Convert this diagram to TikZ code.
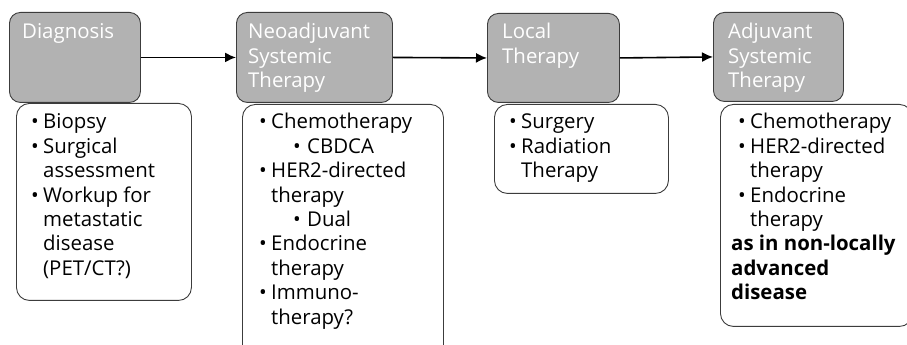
\documentclass[tikz,border=0pt]{standalone}
\usepackage{fontspec}
\setmainfont{Open Sans}
\usetikzlibrary{arrows.meta}
\definecolor{boxgray}{RGB}{178,178,178}
\definecolor{edge}{RGB}{60,60,60}
\newcommand{\bu}{\makebox[12pt][l]{\textbullet}}
\newcommand{\ind}{\hspace*{12pt}}
\newcommand{\subbu}{\hspace*{34pt}\makebox[14pt][l]{\textbullet}}
\newcommand{\lines}[1]{\begin{tabular}[t]{@{}l@{}}#1\end{tabular}}
\tikzset{
  head/.style={draw=edge, fill=boxgray, line width=0.9pt, rounded corners=11pt, anchor=north west, inner sep=0pt},
  body/.style={draw=edge, fill=white, line width=0.9pt, rounded corners=13pt, anchor=north west, inner sep=0pt},
  txt/.style={anchor=base west, inner sep=0pt, font=\fontsize{20.4}{24.4}\selectfont},
  ttl/.style={txt, text=white},
  flow/.style={line width=1.6pt, -{Latex[length=11pt,width=10pt]}}
}
\begin{document}
\begin{tikzpicture}[x=1pt,y=1pt]
\clip (0,0) rectangle (907,345);
\fill[white] (0,0) rectangle (907,345);
% white body boxes
\node[body, minimum width=175pt, minimum height=197pt] (w1) at (16,242) {};
\node[body, minimum width=201pt, minimum height=256pt] (w2) at (242,241) {};
\node[body, minimum width=174pt, minimum height=89pt] (w3) at (494,241) {};
\node[body, minimum width=192pt, minimum height=222pt] (w4) at (720,241) {};
% gray heads
\node[head, minimum width=131pt, minimum height=90pt] (g1) at (9,333) {};
\node[head, minimum width=156pt, minimum height=90pt] (g2) at (236,333) {};
\node[head, minimum width=132pt, minimum height=89pt] (g3) at (487,332) {};
\node[head, minimum width=130pt, minimum height=89pt] (g4) at (713,333) {};
% titles
\node[ttl] (t1) at (22,306) {\lines{Diagnosis}};
\node[ttl] (t2) at (248,306) {\lines{Neoadjuvant\\Systemic\\Therapy}};
\node[ttl] (t3) at (502,306) {\lines{Local\\Therapy}};
\node[ttl] (t4) at (728,306) {\lines{Adjuvant\\Systemic\\Therapy}};
% bodies
\node[txt] (b1) at (31,216) {\lines{\bu Biopsy\\\bu Surgical\\\ind assessment\\\bu Workup for\\\ind metastatic\\\ind disease\\\ind (PET/CT?)}};
\node[txt] (b2) at (259,216) {\lines{\bu Chemotherapy\\\subbu CBDCA\\\bu HER2-directed\\\ind therapy\\\subbu Dual\\\bu Endocrine\\\ind therapy\\\bu Immuno-\\\ind therapy?}};
\node[txt] (b3) at (509,216) {\lines{\bu Surgery\\\bu Radiation\\\ind Therapy}};
\node[txt] (b4) at (731,216) {\lines{\hspace*{7pt}\bu Chemotherapy\\\hspace*{7pt}\bu HER2-directed\\\hspace*{7pt}\ind therapy\\\hspace*{7pt}\bu Endocrine\\\hspace*{7pt}\ind therapy\\\textbf{as in non-locally}\\\textbf{advanced}\\\textbf{disease}}};
% arrows
\draw[flow] (g1.east) -- (g2.west);
\draw[flow] (g2.east) -- (g3.west);
\draw[flow] (g3.east) -- (g4.west);
\end{tikzpicture}
\end{document}
